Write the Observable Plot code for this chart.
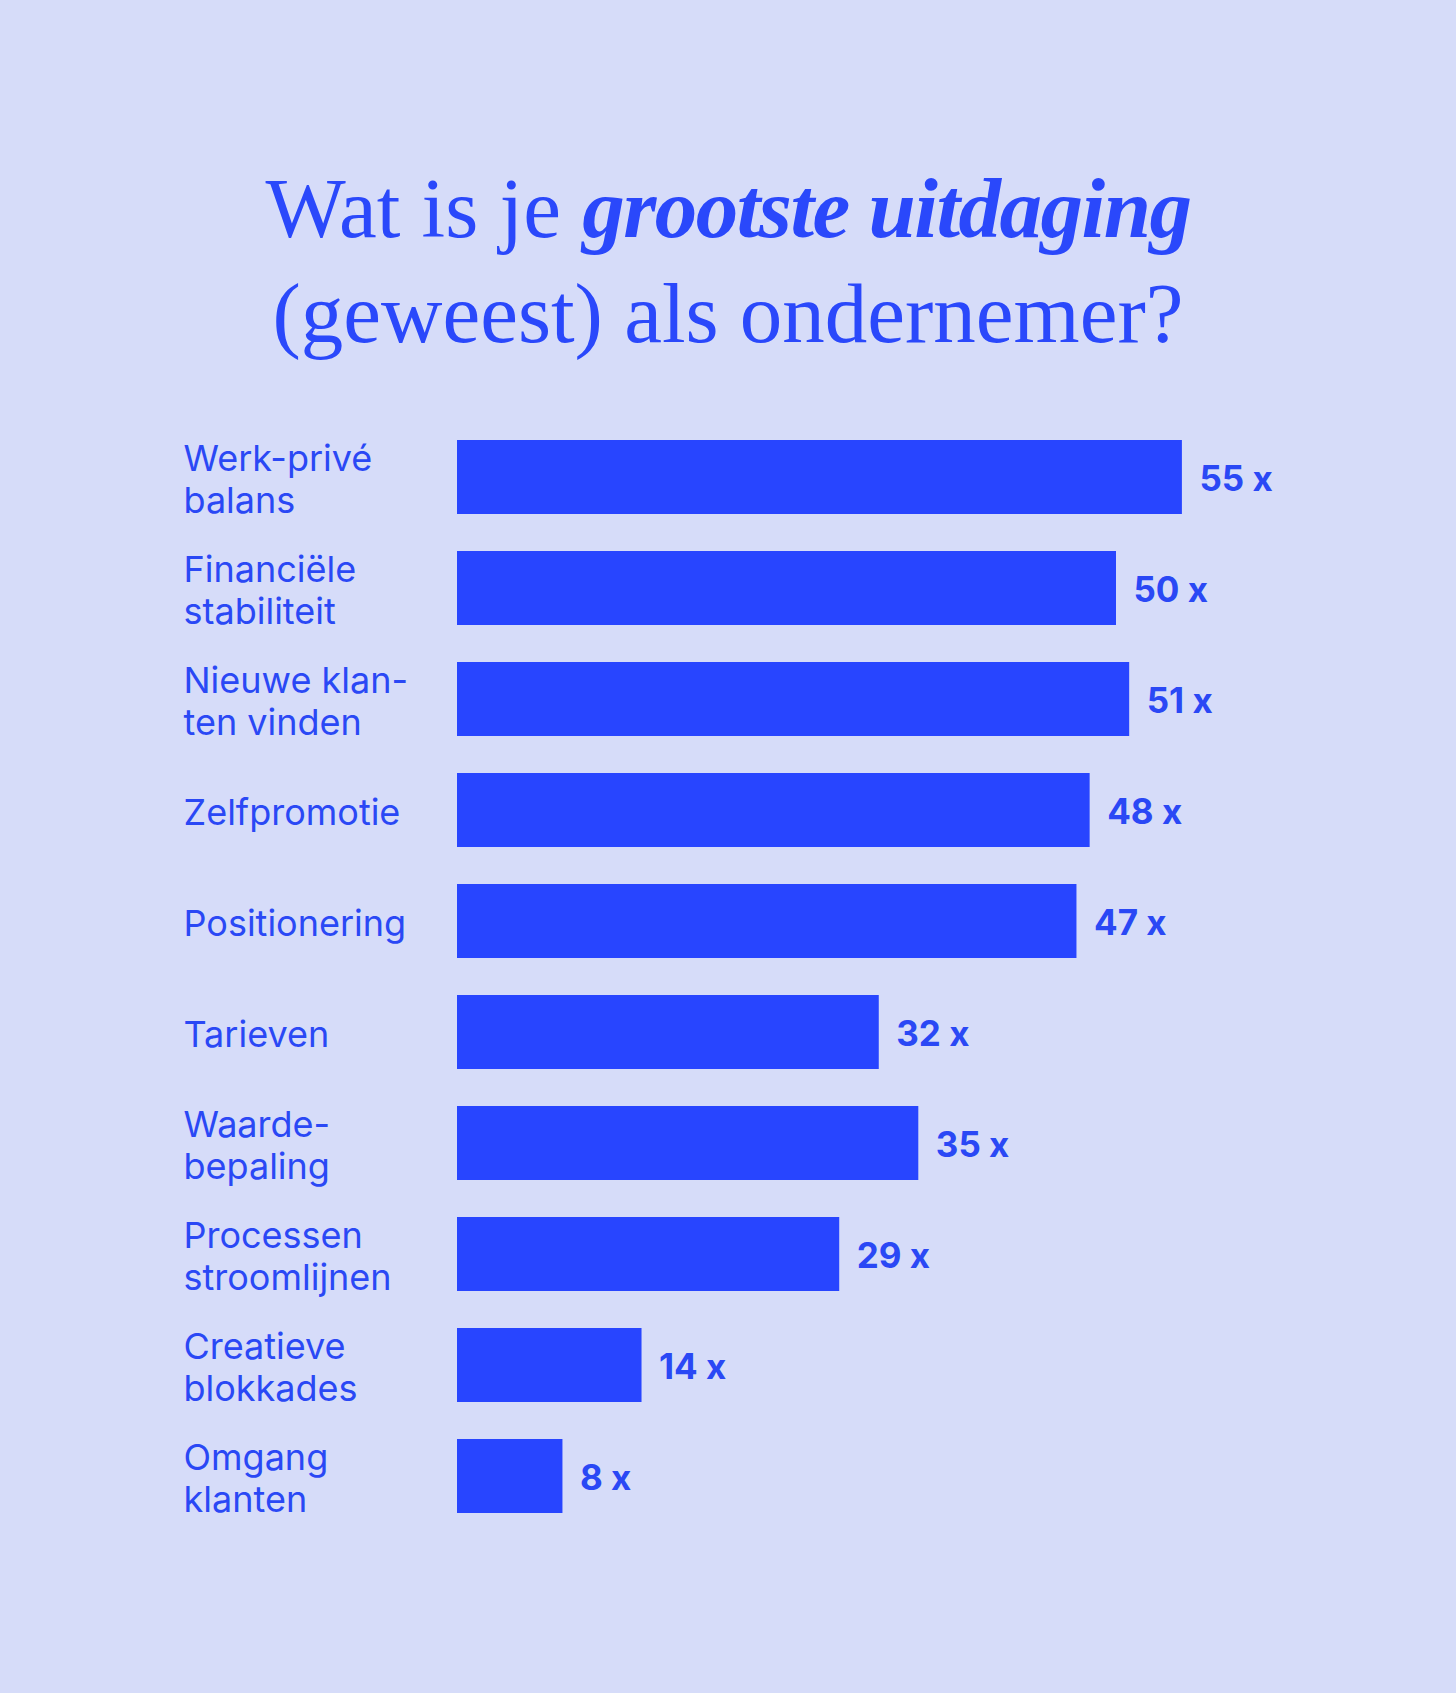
<!DOCTYPE html>
<html>
<head>
<meta charset="utf-8">
<script src="https://cdn.jsdelivr.net/npm/d3@7"></script>
<script src="https://cdn.jsdelivr.net/npm/@observablehq/plot@0.6"></script>
<style>
  html, body { margin: 0; padding: 0; background: #d6dcf9; }
  body { width: 1456px; height: 1693px; overflow: hidden; }
  #title {
    box-sizing: border-box;
    height: 390px;
    padding-top: 156px;
    text-align: center;
    font-family: "Liberation Serif", serif;
    font-size: 85px;
    line-height: 105px;
    color: #2a48fb;
    letter-spacing: 0px;
  }
  #title i { font-weight: bold; letter-spacing: -1.5px; }
  #chart svg { display: block; overflow: visible; }
</style>
</head>
<body>
<div id="title">Wat is je <i>grootste uitdaging</i><br>(geweest) als ondernemer?</div>
<div id="chart"></div>
<script>
const categories = [
  "Werk-privé\nbalans",
  "Financiële\nstabiliteit",
  "Nieuwe klan-\nten vinden",
  "Zelfpromotie",
  "Positionering",
  "Tarieven",
  "Waarde-\nbepaling",
  "Processen\nstroomlijnen",
  "Creatieve\nblokkades",
  "Omgang\nklanten"
];
const values = [55, 50, 51, 48, 47, 32, 35, 29, 14, 8];
const valueSuffix = " x";

const rows = categories.map((c, i) => ({label: c, value: values[i]}));

const blue = "#2845ff";
const textBlue = "#2a48f5";

const chart = Plot.plot({
  width: 1456,
  height: 1303,
  marginLeft: 457,
  marginRight: 10.5,
  marginTop: 49,
  marginBottom: 179,
  style: {background: "transparent", overflow: "visible"},
  x: {domain: [0, 75], axis: null},
  y: {domain: categories, paddingInner: 0.334, paddingOuter: 0, axis: null},
  marks: [
    Plot.barX(rows, {y: "label", x: "value", fill: blue}),
    Plot.text(rows, {
      y: "label",
      text: "label",
      frameAnchor: "left",
      textAnchor: "start",
      dx: -274,
      dy: 1,
      lineHeight: 1.17,
      fontSize: 36,
      fontFamily: "Inter, sans-serif",
      letterSpacing: 0.5,
      fill: textBlue
    }),
    Plot.text(rows, {
      y: "label",
      x: "value",
      text: d => d.value + valueSuffix,
      textAnchor: "start",
      dx: 17,
      dy: 2,
      fontSize: 35,
      fontWeight: "bold",
      fontFamily: "Inter, sans-serif",
      fill: textBlue
    })
  ]
});
document.getElementById("chart").appendChild(chart);
</script>
</body>
</html>
